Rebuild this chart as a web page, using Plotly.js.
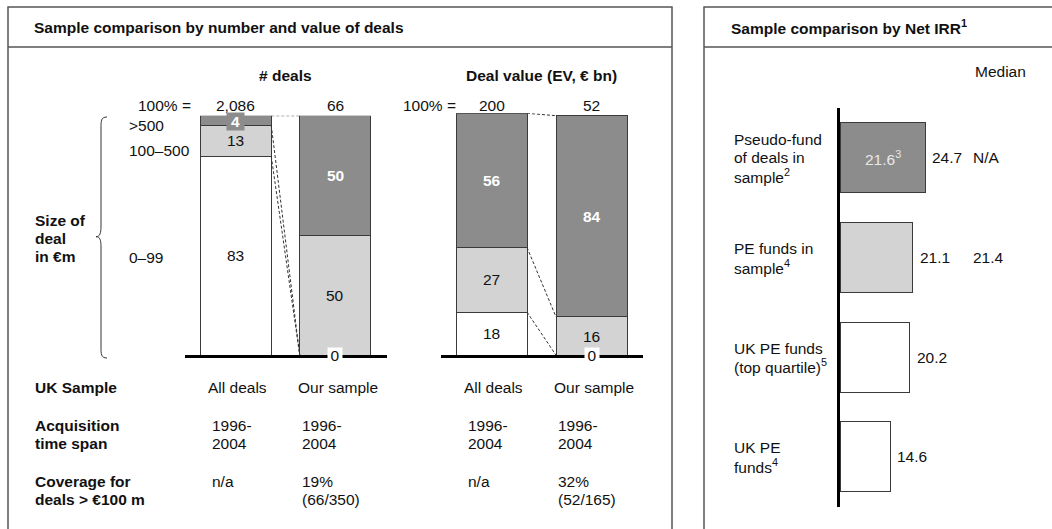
<!DOCTYPE html>
<html><head><meta charset="utf-8">
<script src="https://cdn.plot.ly/plotly-3.0.1.min.js"></script>
<style>html,body{margin:0;padding:0;background:#fff;}#chart{width:1052px;height:529px;}</style>
</head><body><div id="chart"></div>
<script>
// ---------------- data ----------------
const sizeClasses = ["0–99", "100–500", ">500"];
const dealCats = ["All deals", "Our sample"];
const deals0to99 = [83, 0];
const deals100to500 = [13, 50];
const dealsOver500 = [4, 50];
const dealTotals = ["2,086", "66"];
const value0to99 = [18, 0];
const value100to500 = [27, 16];
const valueOver500 = [56, 84];
const valueTotals = ["200", "52"];

const irrCats = ["Pseudo-fund of deals in sample", "PE funds in sample", "UK PE funds (top quartile)", "UK PE funds"];
const irrLabelLines = [["Pseudo-fund", "of deals in", "sample<sup>2</sup>"], ["PE funds in", "sample<sup>4</sup>"], ["UK PE funds", "(top quartile)<sup>5</sup>"], ["UK PE", "funds<sup>4</sup>"]];
const irrValues = [24.7, 21.1, 20.2, 14.6];
const irrMedians = ["N/A", "21.4", "", ""];
const pseudoFundInner = "21.6<sup>3</sup>";

const rowHeaders = [["UK Sample"], ["Acquisition", "time span"], ["Coverage for", "deals > €100 m"]];
const colDealsAll = [["All deals"], ["1996-", "2004"], ["n/a"]];
const colDealsOur = [["Our sample"], ["1996-", "2004"], ["19%", "(66/350)"]];
const colValueAll = [["All deals"], ["1996-", "2004"], ["n/a"]];
const colValueOur = [["Our sample"], ["1996-", "2004"], ["32%", "(52/165)"]];

// ---------------- styles ----------------
const W = 1052, H = 529;
const FONT = "Liberation Sans, Arial, sans-serif";
const FS = 15.5;
const TXT = "#111";
const DARK = "#8c8c8c", LIGHT = "#d3d3d3", WHITE = "#ffffff";
const segColors = [WHITE, LIGHT, DARK];
const EDGE = "#3a3a3a";
const LS = 18.3;
const px = x => x / W, py = y => 1 - y / H;

const annotations = [];
function txt(text, x, y, o = {}) {
  annotations.push(Object.assign({
    text, x: px(x), y: py(y), xref: "paper", yref: "paper", showarrow: false,
    xanchor: "left", yanchor: "middle",
    font: {family: FONT, size: FS, color: TXT}
  }, o));
}
function lines(arr, x, y0, o = {}) {
  arr.forEach((l, i) => txt(l, x, y0 + i * LS, o));
}

// titles
txt("<b>Sample comparison by number and value of deals</b>", 32, 27);
txt("<b>Sample comparison by Net IRR<sup>1</sup></b>", 729, 27);
txt("<b># deals</b>", 285.5, 75, {xanchor: "center"});
txt("<b>Deal value (EV, € bn)</b>", 541, 75, {xanchor: "center"});
txt("100% =", 193, 105, {xanchor: "right"});
txt("100% =", 458, 105, {xanchor: "right"});
txt("Median", 973, 72);

// size class labels
txt(sizeClasses[2], 127, 125);
txt(sizeClasses[1], 127, 150);
txt(sizeClasses[0], 127, 257);
lines(["<b>Size of</b>", "<b>deal</b>", "<b>in €m</b>"], 33, 220);

// table
const rowY = [387, 425, 481];
rowHeaders.forEach((r, i) => lines(r.map(s => "<b>" + s + "</b>"), 33, rowY[i]));
const colX = [[206, 210], [296, 300], [462, 466], [552, 556]];
[colDealsAll, colDealsOur, colValueAll, colValueOur].forEach((col, c) => {
  col.forEach((cell, i) => lines(cell, i === 0 ? colX[c][0] : colX[c][1], rowY[i]));
});

// totals above bars
dealCats.forEach((c, i) => {
  annotations.push({text: dealTotals[i], x: c, y: py(105), xref: "x", yref: "paper", showarrow: false, xanchor: "center", yanchor: "middle", font: {family: FONT, size: FS, color: TXT}});
  annotations.push({text: valueTotals[i], x: c, y: py(105), xref: "x2", yref: "paper", showarrow: false, xanchor: "center", yanchor: "middle", font: {family: FONT, size: FS, color: TXT}});
});

// segment labels
function segLabels(xr, yr, series) {
  dealCats.forEach((c, j) => {
    let cum = 0;
    series.forEach((s, k) => {
      const v = s[j];
      const isDark = k === 2;
      const a = {
        text: isDark ? "<b>" + v + "</b>" : String(v),
        x: c, y: v === 0 ? cum : cum + v / 2, xref: xr, yref: yr, showarrow: false,
        xanchor: "center", yanchor: "middle",
        font: {family: FONT, size: FS, color: isDark ? "#fff" : TXT}
      };
      if (v === 0) { a.bgcolor = segColors[k]; a.width = 14; a.height = 14; a.borderpad = 0; }
      else if (v < 8) { a.bgcolor = segColors[k]; a.width = 17; a.height = 17; a.borderpad = 0; a.yshift = -1; }
      annotations.push(a);
      cum += v;
    });
  });
}
const dealSeries = [deals0to99, deals100to500, dealsOver500];
const valueSeries = [value0to99, value100to500, valueOver500];
segLabels("x", "y", dealSeries);
segLabels("x2", "y2", valueSeries);

// IRR labels
irrCats.forEach((c, i) => {
  const L = irrLabelLines[i];
  L.forEach((l, k) => annotations.push({text: l, x: px(732), y: c, xref: "paper", yref: "y3", showarrow: false, xanchor: "left", yanchor: "middle", yshift: -(k - (L.length - 1) / 2) * LS, font: {family: FONT, size: FS, color: TXT}}));
  annotations.push({text: String(irrValues[i]), x: irrValues[i], y: c, xref: "x3", yref: "y3", showarrow: false, xanchor: "left", yanchor: "middle", xshift: 5, font: {family: FONT, size: FS, color: TXT}});
  if (irrMedians[i]) annotations.push({text: irrMedians[i], x: px(971), y: c, xref: "paper", yref: "y3", showarrow: false, xanchor: "left", yanchor: "middle", font: {family: FONT, size: FS, color: TXT}});
});
annotations.push({text: pseudoFundInner, x: irrValues[0] / 2, y: irrCats[0], xref: "x3", yref: "y3", showarrow: false, xanchor: "center", yanchor: "middle", font: {family: FONT, size: FS, color: "#e8e8e8"}});

// ---------------- shapes ----------------
const shapes = [];
const pl = {color: "#555", width: 1.5};
shapes.push({type: "rect", xref: "paper", yref: "paper", x0: px(8), x1: px(672), y0: py(7), y1: py(560), line: pl, layer: "below"});
shapes.push({type: "line", xref: "paper", yref: "paper", x0: px(8), x1: px(672), y0: py(47), y1: py(47), line: pl});
shapes.push({type: "rect", xref: "paper", yref: "paper", x0: px(704), x1: px(1080), y0: py(7), y1: py(560), line: pl, layer: "below"});
shapes.push({type: "line", xref: "paper", yref: "paper", x0: px(704), x1: px(1080), y0: py(47), y1: py(47), line: pl});
// brace
const P = (x, y) => px(x).toFixed(5) + "," + py(y).toFixed(5);
shapes.push({type: "path", xref: "paper", yref: "paper", line: {color: "#333", width: 1},
  path: "M" + P(107, 117) + " C" + P(101, 117) + " " + P(101, 121) + " " + P(101, 128) +
    " L" + P(101, 226) + " C" + P(101, 233) + " " + P(100, 236.7) + " " + P(96, 236.7) +
    " C" + P(100, 236.7) + " " + P(101, 240) + " " + P(101, 247) +
    " L" + P(101, 347) + " C" + P(101, 354) + " " + P(101, 358) + " " + P(107, 358)});

// connectors between bars: [stack level in "All deals", stack level in "Our sample"]
function connectors(xr, yr, series, bw, pairs) {
  const cumAt = (j, n) => series.slice(0, n).reduce((s, a) => s + a[j], 0);
  pairs.forEach(([n0, n1]) => {
    shapes.push({type: "line", xref: xr, yref: yr, x0: bw / 2, x1: 1 - bw / 2, y0: cumAt(0, n0), y1: cumAt(1, n1), line: {color: "#333", width: 1, dash: "3px,2px"}});
  });
}
const BW1 = 0.714, BW2 = 0.71;
connectors("x", "y", dealSeries, BW1, [[3, 3], [2, 1], [1, 1]]);
connectors("x2", "y2", valueSeries, BW2, [[3, 3], [2, 2], [1, 1]]);

// ---------------- traces ----------------
const traces = [];
dealSeries.forEach((s, k) => traces.push({type: "bar", x: dealCats, y: s, xaxis: "x", yaxis: "y", width: BW1, name: sizeClasses[k], marker: {color: segColors[k], line: {color: EDGE, width: 1}}, hoverinfo: "skip"}));
valueSeries.forEach((s, k) => traces.push({type: "bar", x: dealCats, y: s, xaxis: "x2", yaxis: "y2", width: BW2, name: sizeClasses[k], marker: {color: segColors[k], line: {color: EDGE, width: 1}}, hoverinfo: "skip"}));
traces.push({type: "bar", orientation: "h", y: irrCats, x: irrValues, xaxis: "x3", yaxis: "y3", width: 0.70, marker: {color: [DARK, LIGHT, WHITE, WHITE], line: {color: EDGE, width: 1}}, hoverinfo: "skip"});

const hid = {showgrid: false, zeroline: false, showticklabels: false, ticks: "", fixedrange: true};
const layout = {
  width: W, height: H, margin: {l: 0, r: 0, t: 0, b: 0}, showlegend: false,
  paper_bgcolor: "#fff", plot_bgcolor: "rgba(0,0,0,0)", barmode: "stack",
  font: {family: FONT, size: FS, color: TXT},
  xaxis: Object.assign({domain: [px(185), px(387)], anchor: "y", type: "category", range: [-0.51, 1.52], showline: true, linewidth: 3, linecolor: "#000"}, hid),
  yaxis: Object.assign({domain: [py(355.2), py(115.7)], anchor: "x", range: [0, 100], showline: false}, hid),
  xaxis2: Object.assign({domain: [px(441), px(643)], anchor: "y2", type: "category", range: [-0.505, 1.515], showline: true, linewidth: 3, linecolor: "#000"}, hid),
  yaxis2: Object.assign({domain: [py(355.2), py(113.3)], anchor: "x2", range: [0, 101], showline: false}, hid),
  xaxis3: Object.assign({domain: [px(840), 1], anchor: "y3", range: [0, 61.6], showline: false}, hid),
  yaxis3: Object.assign({domain: [py(506.7), py(108)], anchor: "x3", type: "category", range: [3.5, -0.5], showline: true, linewidth: 3, linecolor: "#000"}, hid),
  annotations, shapes
};
Plotly.newPlot("chart", traces, layout, {staticPlot: true, displayModeBar: false});
</script></body></html>
